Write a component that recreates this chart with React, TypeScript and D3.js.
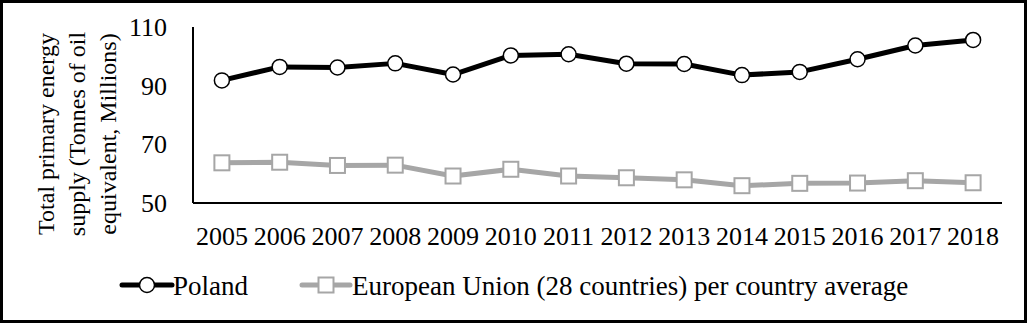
import React from "react";
import * as d3 from "d3";

const years = ["2005","2006","2007","2008","2009","2010","2011","2012","2013","2014","2015","2016","2017","2018"];
const poland = [91.8, 96.4, 96.2, 97.6, 93.8, 100.3, 100.7, 97.5, 97.4, 93.6, 94.7, 99.0, 103.7, 105.6];
const euAvg = [63.7, 63.9, 62.8, 62.9, 59.2, 61.5, 59.2, 58.6, 57.9, 55.9, 56.7, 56.8, 57.6, 56.9];
const yTicks = [50, 70, 90, 110];
const seriesNames = ["Poland", "European Union (28 countries) per country average"];
const yLabelLines = ["Total primary energy", "supply (Tonnes of oil", "equivalent, Millions)"];

const W = 1027, H = 323;
const left = 193, right = 1002, top = 27, bottom = 203;
const FONT = "Liberation Serif";
const GRAY = "#a6a6a6";

export default function App() {
  const x = d3.scaleBand<string>().domain(years).range([left, right]);
  const y = d3.scaleLinear().domain([50, 110]).range([bottom, top]);
  const cx = (d: string) => (x(d) as number) + x.bandwidth() / 2;
  const line = d3.line<number>().x((_, i) => cx(years[i])).y((v) => y(v));
  const txt = { fontFamily: FONT };

  return (
    <svg width={W} height={H} style={{ position: "absolute", left: 0, top: 0, background: "#fff" }}>
      <rect x={1.5} y={1.5} width={W - 3} height={H - 3} fill="#fff" stroke="#000" strokeWidth={3} />
      <line x1={left} x2={left} y1={top} y2={bottom} stroke="#000" strokeWidth={2} />
      <line x1={left} x2={right} y1={bottom} y2={bottom} stroke="#000" strokeWidth={2} />
      {yTicks.map((t) => (
        <text key={t} style={txt} x={167} y={y(t)} dy="0.35em" textAnchor="end" fontSize={26} fill="#000">{t}</text>
      ))}
      {years.map((yr) => (
        <text key={yr} style={txt} x={cx(yr)} y={245} textAnchor="middle" fontSize={26} fill="#000">{yr}</text>
      ))}
      <g transform="translate(0,134)">
        {yLabelLines.map((l, i) => (
          <text key={l} style={txt} transform={`translate(${54 + i * 31},0) rotate(-90)`} textAnchor="middle" fontSize={24} fill="#000">{l}</text>
        ))}
      </g>
      <path d={line(euAvg) || ""} fill="none" stroke={GRAY} strokeWidth={5} strokeLinejoin="round" />
      {euAvg.map((v, i) => (
        <rect key={i} x={cx(years[i]) - 7.5} y={y(v) - 7.5} width={15} height={15} fill="#fff" stroke={GRAY} strokeWidth={2} />
      ))}
      <path d={line(poland) || ""} fill="none" stroke="#000" strokeWidth={5} strokeLinejoin="round" />
      {poland.map((v, i) => (
        <circle key={i} cx={cx(years[i])} cy={y(v)} r={7.5} fill="#fff" stroke="#000" strokeWidth={1.5} />
      ))}
      <line x1={122} x2={172} y1={285} y2={285} stroke="#000" strokeWidth={5} strokeLinecap="round" />
      <circle cx={147} cy={285} r={7.5} fill="#fff" stroke="#000" strokeWidth={1.5} />
      <text style={txt} x={173} y={295} fontSize={27} fill="#000">{seriesNames[0]}</text>
      <line x1={302} x2={350} y1={285} y2={285} stroke={GRAY} strokeWidth={5} strokeLinecap="round" />
      <rect x={318.5} y={277.5} width={15} height={15} fill="#fff" stroke={GRAY} strokeWidth={2} />
      <text style={txt} x={352} y={295} fontSize={27} fill="#000">{seriesNames[1]}</text>
    </svg>
  );
}
